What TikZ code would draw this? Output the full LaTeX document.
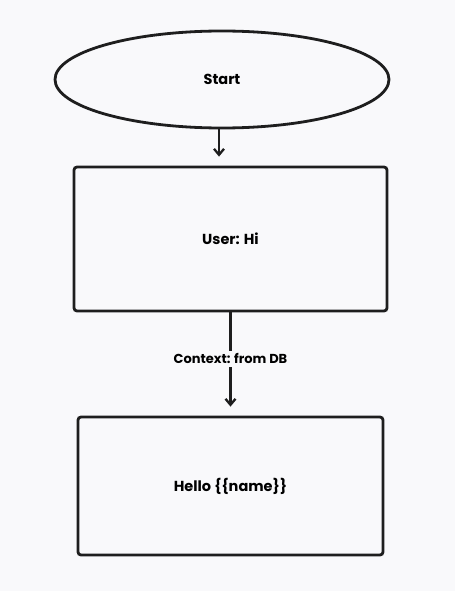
\documentclass[tikz,border=0pt]{standalone}
\usepackage{fontspec}
\setmainfont{Poppins}
\usetikzlibrary{shapes.geometric,arrows.meta}
\definecolor{paper}{HTML}{F9F9FB}
\definecolor{ink}{HTML}{1E1E1E}
\tikzset{
    box/.style={draw=ink,line width=2.8pt,rounded corners=3pt,font=\fontsize{14.5}{16}\selectfont\bfseries},
    flow/.style={-{Straight Barb[length=6pt,width=10pt]},draw=ink,line width=2.3pt,shorten >=9pt}
}
\begin{document}
\begin{tikzpicture}[x=1pt,y=-1pt]
            \fill[paper] (0,0) rectangle (455,591);
            \useasboundingbox (0,0) rectangle (455,591);

            \node[box,ellipse,minimum width=334pt,minimum height=97pt,inner sep=0pt] (START) at (222, 79.5) {Start};
            \node[box,minimum width=313pt,minimum height=144pt] (USER) at (230.5, 239) {User: Hi};
            \node[box,minimum width=305pt,minimum height=138pt] (HELLO) at (230.5, 486) {Hello \{\{name\}\}};

            \draw[flow] ([xshift=-3pt]START.south) -- ([xshift=-3pt]START.south |- USER.north);
            \draw[flow] (USER.south) -- node[pos=0.45,fill=paper,inner sep=3pt,font=\fontsize{13}{15}\selectfont\bfseries] {Context: from DB} (HELLO.north);

        \end{tikzpicture}
\end{document}
